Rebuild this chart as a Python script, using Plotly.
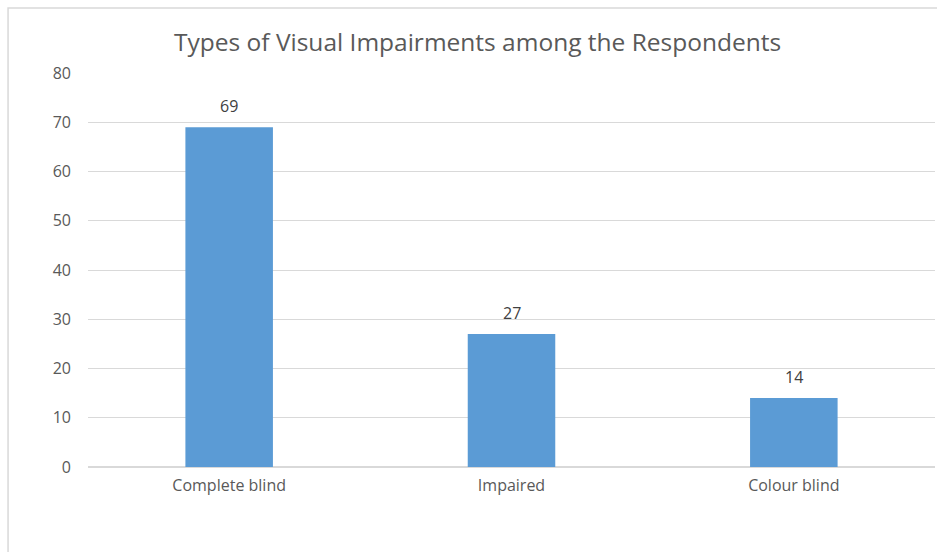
import plotly.graph_objects as go

categories = ["Complete blind", "Impaired", "Colour blind"]
values = [69, 27, 14]
y_ticks = [0, 10, 20, 30, 40, 50, 60, 70, 80]

title_text = "Types of Visual Impairments among the Respondents"
bar_color = "#5B9BD5"
text_color = "#595959"
font_family = "Open Sans, Segoe UI, Calibri, sans-serif"

fig = go.Figure()
fig.add_trace(go.Bar(
    x=categories,
    y=values,
    marker=dict(color=bar_color, line=dict(width=0)),
    hoverinfo="x+y",
))

for c, v in zip(categories, values):
    fig.add_annotation(
        x=c, y=v, text=str(v), showarrow=False,
        yanchor="bottom", yshift=8,
        font=dict(family=font_family, size=16, color="#404040"),
    )

fig.update_layout(
    width=937, height=552,
    margin=dict(l=88, r=2, t=73, b=85),
    paper_bgcolor="white",
    plot_bgcolor="white",
    bargap=0.69,
    showlegend=False,
    title=dict(
        text=title_text,
        x=0.46, xanchor="center", xref="paper",
        y=0.923, yanchor="middle", yref="container",
        font=dict(family=font_family, size=24.5, color="#595959"),
    ),
    font=dict(family=font_family, size=15, color=text_color),
    xaxis=dict(
        showgrid=False,
        showline=False,
        zeroline=False,
        ticks="",
        tickfont=dict(family=font_family, size=16, color=text_color),
        ticklabelstandoff=7,
    ),
    yaxis=dict(
        range=[0, 80],
        tickvals=y_ticks,
        showgrid=True,
        gridcolor="#d9d9d9",
        gridwidth=1,
        zeroline=True,
        zerolinecolor="#d9d9d9",
        zerolinewidth=1.5,
        showline=False,
        ticks="",
        ticklabelstandoff=16,
        tickfont=dict(family=font_family, size=16, color=text_color),
    ),
    shapes=[
        dict(type="rect", xref="paper", yref="paper",
             x0=-0.0944, x1=1.2, y0=-0.5, y1=1.165,
             line=dict(color="#d9d9d9", width=1.5),
             fillcolor="rgba(0,0,0,0)", layer="below"),
    ],
)

fig.write_html("out.html")
